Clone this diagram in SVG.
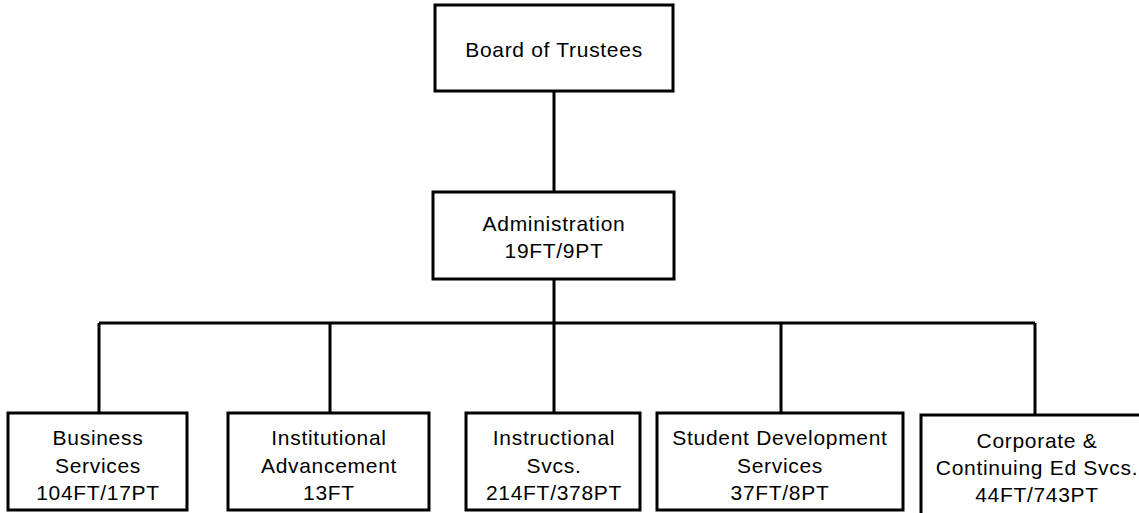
<svg xmlns="http://www.w3.org/2000/svg" width="1139" height="513" viewBox="0 0 1139 513">
<style>
.box{fill:#fff;stroke:#000;stroke-width:3}
.ln{fill:none;stroke:#000;stroke-width:3}
text{font-family:"Liberation Sans",Arial,sans-serif;font-size:21px;fill:#000;text-anchor:middle;letter-spacing:0.7px}
</style>
<rect width="1139" height="513" fill="#fff"/>
<g id="connectors">
<path class="ln" d="M554 91V192"/>
<path class="ln" d="M554 279V323"/>
<path class="ln" d="M99 323H1035"/>
<path class="ln" d="M99 323V413M330 323V413M554 323V413M781 323V413M1035 323V415"/>
</g>
<g id="board">
<rect class="box" x="435" y="5" width="238" height="86"/>
<text x="554" y="57">Board of Trustees</text>
</g>
<g id="admin">
<rect class="box" x="433" y="192" width="241" height="87"/>
<text x="554" y="231">Administration</text>
<text x="554" y="258">19FT/9PT</text>
</g>
<g id="business">
<rect class="box" x="8" y="413" width="179" height="97"/>
<text x="98" y="445">Business</text>
<text x="98" y="473">Services</text>
<text x="98" y="500">104FT/17PT</text>
</g>
<g id="institutional">
<rect class="box" x="228" y="413" width="201" height="97"/>
<text x="329" y="445">Institutional</text>
<text x="329" y="473">Advancement</text>
<text x="329" y="500">13FT</text>
</g>
<g id="instructional">
<rect class="box" x="466" y="413" width="174" height="97"/>
<text x="554" y="445">Instructional</text>
<text x="554" y="473">Svcs.</text>
<text x="554" y="500">214FT/378PT</text>
</g>
<g id="student">
<rect class="box" x="657" y="413" width="246" height="97"/>
<text x="780" y="445">Student Development</text>
<text x="780" y="473">Services</text>
<text x="780" y="500">37FT/8PT</text>
</g>
<g id="corporate">
<rect class="box" x="921" y="415" width="240" height="120"/>
<text x="1037" y="448">Corporate &amp;</text>
<text x="1037" y="475">Continuing Ed Svcs.</text>
<text x="1037" y="502">44FT/743PT</text>
</g>
</svg>
